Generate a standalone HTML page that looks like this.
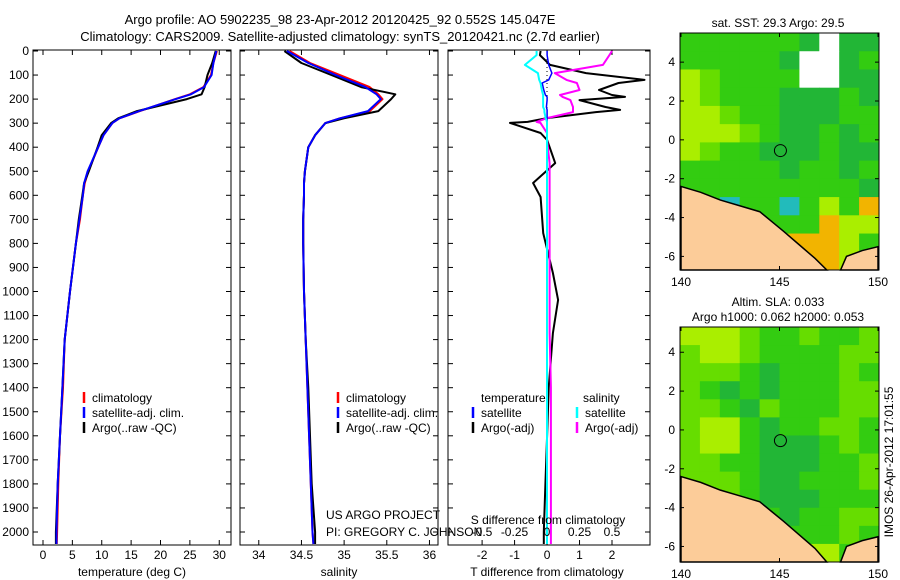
<!DOCTYPE html>
<html><head><meta charset="utf-8"><style>
body{margin:0;background:#fff;}
svg{display:block;font-family:"Liberation Sans",sans-serif;font-size:12px;}
</style></head><body>
<svg id="c" width="900" height="580" viewBox="0 0 900 580">
<text x="340" y="24" text-anchor="middle" font-size="13">Argo profile: AO 5902235_98 23-Apr-2012 20120425_92 0.552S 145.047E</text>
<text x="340" y="41" text-anchor="middle" font-size="13">Climatology: CARS2009. Satellite-adjusted climatology: synTS_20120421.nc (2.7d earlier)</text>
</svg>
<script>
// ---------- data ----------
const depthTicks=[0,100,200,300,400,500,600,700,800,900,1000,1100,1200,1300,1400,1500,1600,1700,1800,1900,2000];
const tempTicks=[0,5,10,15,20,25,30];
const salTicks=[34,34.5,35,35.5,36];
const salTickLabels=["34","34.5","35","35.5","36"];
const tdTicks=[-2,-1,0,1,2];
const sdTicks=[-0.5,-0.25,0,0.25,0.5];
const sdTickLabels=["-0.5","-0.25","0","0.25","0.5"];
const profDepth=[0,50,100,150,180,200,250,280,300,350,400,500,550,600,700,800,1000,1200,1400,1600,1800,2000,2050];
const tempClim=[29.6,29.0,28.6,27.3,25,22.5,16.5,13,11.8,10.3,9.4,7.7,7.1,6.8,6.3,5.6,4.6,3.7,3.4,2.9,2.6,2.4,2.35];
const tempSat=[29.5,29.0,28.7,27.4,25.2,22.6,16.4,13,11.8,10.3,9.4,7.6,7.0,6.8,6.2,5.6,4.6,3.7,3.3,2.9,2.5,2.3,2.3];
const tempArgo=[29.4,28.8,28.0,27.5,27.0,24.5,16,12.8,11.6,10.0,9.3,7.8,7.0,6.7,6.1,5.6,4.6,3.7,3.3,2.9,2.5,2.2,2.2];
const salClim=[34.36,34.6,34.95,35.3,35.4,35.45,35.3,34.95,34.78,34.66,34.58,34.54,34.53,34.53,34.52,34.52,34.53,34.55,34.57,34.59,34.61,34.63,34.64];
const salSat=[34.33,34.58,34.9,35.25,35.38,35.43,35.28,34.95,34.78,34.66,34.58,34.54,34.53,34.53,34.52,34.52,34.53,34.55,34.57,34.59,34.61,34.63,34.64];
const salArgo=[34.3,34.5,34.85,35.2,35.6,35.55,35.4,35.0,34.78,34.66,34.58,34.54,34.53,34.53,34.52,34.52,34.53,34.55,34.58,34.6,34.62,34.66,34.66];
const dDepth=[0,17,58,92,120,133,162,183,191,204,233,245,254,279,295,299,341,370,466,549,607,757,923,1035,1173,1400,1600,1800,2000,2050];
const dTArgo=[-0.2,-0.22,0.09,1.2,3.0,2.2,1.6,2.0,2.4,1.0,1.8,2.25,1.5,0,-0.6,-1.14,-0.2,0,0.25,-0.43,-0.2,-0.12,0.18,0.34,0.18,0.05,0.0,-0.05,-0.1,-0.1];
const dTSat=[0,0,0.05,0.15,0.05,-0.15,-0.1,-0.05,0,0,-0.02,0,0,0,0,0,0,0,0,0,0,0,0,0,0,0,0,0,0,0];
const dSArgo=[0.5,0.48,0.43,0.06,0.15,0.23,0.25,0.1,0.12,0.18,0.2,0.2,0.2,0,-0.08,-0.05,0,0,0.02,0.02,0.02,0.02,0.02,0.02,0.02,0.03,0.03,0.03,0.03,0.03];
const dSSat=[-0.08,-0.08,-0.17,-0.07,-0.06,-0.05,-0.04,-0.03,-0.03,-0.03,-0.03,-0.02,-0.02,-0.01,0,0,0,0,0,0,0,0,0,0,0,0,0,0,0,0];
const lonTicks=[140,145,150];
const latTicks=[4,2,0,-2,-4,-6];
const sstGrid=["ggggggdwdd","gggggdwwdg","ylggggwwdd","ylgggdddgd","yylggdddgg","yyylgddgdg","ylggdddgdd","gggggdggdg","gggggggggd","ggcggcgygo","gggogggoyy","ggggyoooyg","gggggyooyg"];
const slaGrid=["yyylgglggl","lyylggggll","lllgdggglg","lgdgdgggll","llgdlgggll","lyygdggllg","lyygdddglg","llggdddggl","lllgddgggl","gllgdddggg","ggllgdggll","gglllggglg","ggglggyygg"];
// ---------- helpers ----------
const svg=document.getElementById('c');const NS='http://www.w3.org/2000/svg';
function mk(t,a,p){const e=document.createElementNS(NS,t);for(const k in a)e.setAttribute(k,a[k]);(p||svg).appendChild(e);return e;}
const PT=50,PB=545;
const yD=d=>51+d*0.2405;
function panel(name,x0,x1,xmin,xmax){
  const g=mk('g',{});
  
  
  const r=mk('rect',{x:x0,y:PT,width:x1-x0,height:PB-PT,fill:'#fff',stroke:'#000','stroke-width':1},g);
  
  
  depthTicks.forEach(d=>{const y=yD(d);mk('line',{x1:x0,x2:x0+5,y1:y,y2:y,stroke:'#000'},g);mk('line',{x1:x1,x2:x1-5,y1:y,y2:y,stroke:'#000'},g);});
  return {g,sx:v=>x0+(v-xmin)/(xmax-xmin)*(x1-x0),x0,x1};
}
function line(g,xs,ds,sx,col,w,name,dash){
  const pts=xs.map((v,i)=>sx(v).toFixed(1)+','+yD(ds[i]).toFixed(1)).join(' ');
  const p=mk('polyline',{points:pts,fill:'none',stroke:col,'stroke-width':w,'stroke-dasharray':dash||'none','stroke-linejoin':'round'},g);
  
  
  return p;
}
function xticks(P,ticks,labels,yl){
  ticks.forEach((t,i)=>{const x=P.sx(t);mk('line',{x1:x,x2:x,y1:PB,y2:PB-5,stroke:'#000'},P.g);mk('line',{x1:x,x2:x,y1:PT,y2:PT+5,stroke:'#000'},P.g);
    const tx=mk('text',{x:x,y:yl,'text-anchor':'middle'},P.g);tx.textContent=labels?labels[i]:String(t);
    
    });
}
function txt(g,x,y,s,name,anchor){const t=mk('text',{x:x,y:y,'text-anchor':anchor||'start'},g);t.textContent=s;
  
  return t;}
function legend(g,x,y,items){items.forEach((it,i)=>{const yy=y+i*15;mk('line',{x1:x,x2:x,y1:yy-6,y2:yy+5,stroke:it[0],'stroke-width':2.5},g);const t=txt(g,x+8,yy+4,it[1],'legend-entry');});}
// ---------- panel 1 ----------
const P1=panel('temperature-panel',33,231,-1.7,32);
depthTicks.forEach(d=>{const t=txt(P1.g,29,yD(d)+4,String(d),'y-tick-label','end');});
xticks(P1,tempTicks,null,559);
txt(P1.g,132,576,'temperature (deg C)','x-axis-title','middle');
line(P1.g,tempClim,profDepth,P1.sx,'#f00',2,'temp-climatology-line');
line(P1.g,tempArgo,profDepth,P1.sx,'#000',2,'temp-argo-line');
line(P1.g,tempSat,profDepth,P1.sx,'#00f',2,'temp-satellite-line');
legend(P1.g,84,398,[['#f00','climatology'],['#00f','satellite-adj. clim.'],['#000','Argo(..raw -QC)']]);
// ---------- panel 2 ----------
const P2=panel('salinity-panel',240,438,33.78,36.1);
xticks(P2,salTicks,salTickLabels,559);
txt(P2.g,339,576,'salinity','x-axis-title','middle');
line(P2.g,salClim,profDepth,P2.sx,'#f00',2,'sal-climatology-line');
line(P2.g,salArgo,profDepth,P2.sx,'#000',2,'sal-argo-line');
line(P2.g,salSat,profDepth,P2.sx,'#00f',2,'sal-satellite-line');
legend(P2.g,338,398,[['#f00','climatology'],['#00f','satellite-adj. clim.'],['#000','Argo(..raw -QC)']]);
// ---------- panel 3 ----------
const P3=panel('difference-panel',448,650,-3.05,3.17);
const sS=v=>547+v*130;
xticks(P3,tdTicks,null,559);
txt(P3.g,547,576,'T difference from climatology','x-axis-title','middle');
mk('line',{x1:547,x2:547,y1:yD(0),y2:yD(310),stroke:'#000','stroke-dasharray':'1,3'},P3.g);
line(P3.g,dTArgo,dDepth,P3.sx,'#000',2,'tdiff-argo-line');
line(P3.g,dSArgo,dDepth,sS,'#f0f',2,'sdiff-argo-line');
line(P3.g,dTSat,dDepth,P3.sx,'#00f',1.5,'tdiff-satellite-line');
line(P3.g,dSSat,dDepth,sS,'#0ff',2,'sdiff-satellite-line');
txt(P3.g,481,402,'temperature','legend-header-temperature');
txt(P3.g,583,402,'salinity','legend-header-salinity');
legend(P3.g,473,413,[['#00f','satellite'],['#000','Argo(-adj)']]);
legend(P3.g,577,413,[['#0ff','satellite'],['#f0f','Argo(-adj)']]);
// overlay annotations (drawn last so they sit on top)
const ov=mk('g',{});


sdTicks.forEach((t,i)=>{txt(ov,sS(t),536,sdTickLabels[i],'s-diff-tick-label','middle');});
txt(ov,548,524,'S difference from climatology','s-diff-axis-title','middle');
txt(ov,326,519,'US ARGO PROJECT','project-label');
txt(ov,326,536,'PI: GREGORY C. JOHNSON','pi-label');
// ---------- maps ----------
const COL={g:'#33cc11',d:'#22b636',l:'#66dd00',y:'#aaee00',w:'#ffffff',c:'#22bbbb',o:'#f2b400'};
const coast=[[140,-2.4],[141,-2.7],[142,-3.1],[143,-3.4],[144,-3.7],[144.6,-4.2],[145.2,-4.7],[146,-5.4],[146.8,-6.1],[147.4,-6.8],[140,-6.8]];
const coast2=[[148.1,-6.8],[148.4,-6.0],[149.2,-5.7],[150,-5.5],[150,-6.8]];
function map(name,y0,y1,latTop,latBot,grid,titleLines){
  const x0=680,x1=879,lonMin=139.95,lonMax=150.05;
  const g=mk('g',{});
  
  
  const sx=v=>x0+(v-lonMin)/(lonMax-lonMin)*(x1-x0), sy=v=>y0+(latTop-v)/(latTop-latBot)*(y1-y0);
  const rows=grid.length,cols=grid[0].length;
  grid.forEach((row,r)=>{[...row].forEach((ch,c)=>{
    const la0=latTop-(latTop-latBot)*r/rows,la1=latTop-(latTop-latBot)*(r+1)/rows;
    const lo0=lonMin+(lonMax-lonMin)*c/cols,lo1=lonMin+(lonMax-lonMin)*(c+1)/cols;
    const e=mk('rect',{x:sx(lo0),y:sy(la0),width:sx(lo1)-sx(lo0)+0.5,height:sy(la1)-sy(la0)+0.5,fill:COL[ch]},g);
    
    });});
  [coast,coast2].forEach(cs=>{const p=mk('polygon',{points:cs.map(q=>sx(q[0])+','+sy(Math.max(q[1],latBot))).join(' '),fill:'#fccc99',stroke:'#000','stroke-width':1.5},g);
    
    });
  const ci=mk('circle',{cx:sx(145.047),cy:sy(-0.552),r:6,fill:'none',stroke:'#000','stroke-width':1},g);
  
  
  mk('rect',{x:x0,y:y0,width:x1-x0,height:y1-y0,fill:'none',stroke:'#000'},g);
  latTicks.forEach(l=>{const y=sy(l);mk('line',{x1:x0,x2:x0+4,y1:y,y2:y,stroke:'#000'},g);mk('line',{x1:x1,x2:x1-4,y1:y,y2:y,stroke:'#000'},g);txt(g,x0-5,y+4,String(l),'lat-tick-label','end');});
  lonTicks.forEach(l=>{const x=sx(l);mk('line',{x1:x,x2:x,y1:y1,y2:y1-4,stroke:'#000'},g);mk('line',{x1:x,x2:x,y1:y0,y2:y0+4,stroke:'#000'},g);txt(g,x,y1+16,String(l),'lon-tick-label','middle');});
  titleLines.forEach((s,i)=>txt(g,778,y0-6-(titleLines.length-1-i)*15,s,'map-title','middle'));
}
map('sst-map',33,270,5.5,-6.7,sstGrid,['sat. SST: 29.3 Argo: 29.5']);
map('sla-map',327,562,5.3,-6.8,slaGrid,['Altim. SLA: 0.033','Argo h1000: 0.062 h2000: 0.053']);
const ts=mk('text',{x:0,y:0,transform:'translate(893,462) rotate(-90)','text-anchor':'middle'});
ts.textContent='IMOS 26-Apr-2012 17:01:55';


</script>
</body></html>
